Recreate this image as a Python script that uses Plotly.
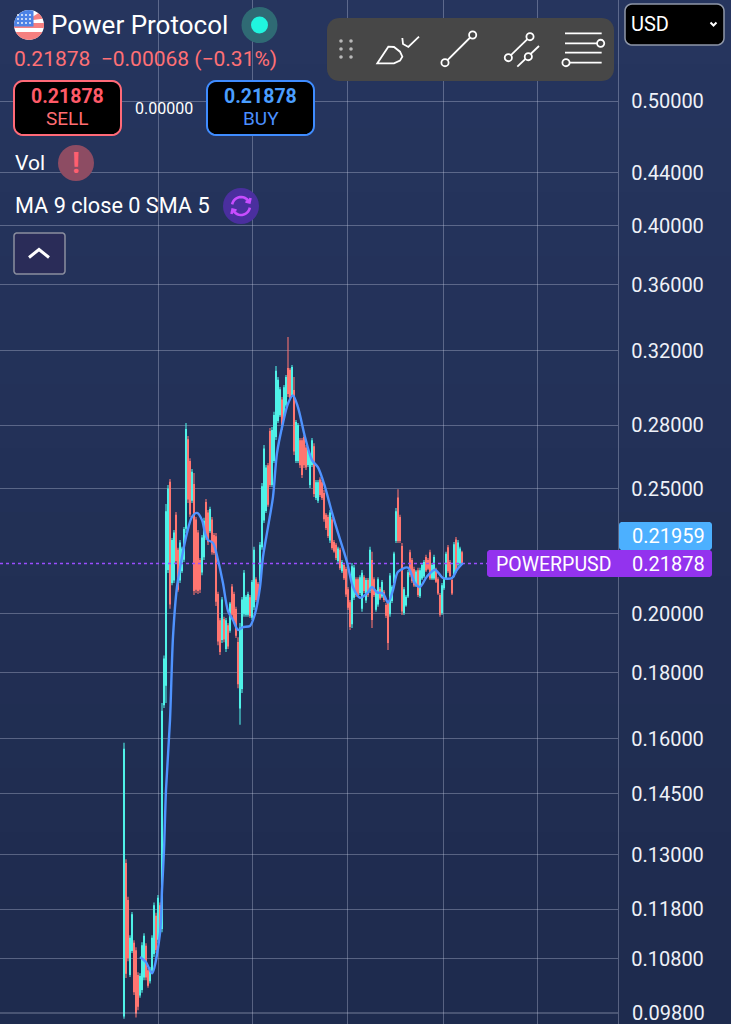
import math
import plotly.graph_objects as go

W, H = 731, 1024

# ---------- data ----------
opens = [
 .0975,.1280,.1198,.1050,.1096,.1110,.1095,.1048,.1012,.1022,
 .1045,.1104,.1057,.1038,.1058,.1090,.1165,.1118,.1187,.1140,
 .1700,.1760,.2165,.2530,.2115,.2125,.2385,.2240,.2125,.2160,
 .2205,.2330,.2730,.2625,.2450,.2520,.2365,.2310,.2200,.2155,
 .2215,.2440,.2395,.2320,.2365,.2300,.2295,.2070,.1975,.1910,
 .1980,.1880,.1958,.1942,.2098,.2070,.2015,.1900,.1690,.1750,
 .2000,.1998,.1998,.2058,.1988,.2025,.2125,.2108,.2125,.2255,
 .2365,.2405,.2605,.2770,.2520,.2630,.2745,.2825,.2855,.2930,
 .2840,.2905,.3100,.3090,.2960,.2980,.2630,.2630,.2725,.2725,
 .2740,.2690,.2612,.2520,.2612,.2695,.2462,.2450,.2540,.2528,
 .2480,.2385,.2375,.2282,.2365,.2272,.2260,.2200,.2240,.2160,
 .2180,.2165,.2088,.2040,.1965,.2060,.2125,.2125,.2078,.2020,
 .2133,.2050,.2122,.2086,.2200,.2125,.2016,.2035,.2090,.2065,
 .2078,.2030,.2040,.2000,.2048,.2115,.2280,.2460,.2375,.2255,
 .2005,.2032,.2065,.2230,.2200,.2165,.2106,.2160,.2066,.2132,
 .2140,.2212,.2200,.2230,.2132,.2132,.2162,.2125,.2066,.2005,
 .2095,.2132,.2250,.2192,.2122,.2143,.2282,.2185,.2190,.2230]
closes = [
 .1570,.1052,.1082,.1120,.1168,.1018,.0980,.0992,.1046,.1105,
 .1124,.1045,.1030,.1058,.1120,.1187,.1098,.1203,.1137,.1680,
 .1845,.2400,.2500,.2035,.2280,.2310,.2200,.2090,.2270,.2245,
 .2325,.2780,.2455,.2390,.2575,.2085,.2090,.2085,.2090,.2290,
 .2360,.2295,.2275,.2410,.2235,.2232,.2045,.1905,.1870,.2050,
 .1912,.1975,.1888,.2035,.1998,.1975,.1925,.1765,.1950,.2050,
 .2150,.2060,.2070,.1993,.2115,.2240,.2052,.2058,.2260,.2510,
 .2685,.2595,.2432,.2520,.2775,.2850,.3085,.3035,.2985,.2790,
 .2995,.3050,.2965,.2945,.3105,.2675,.2815,.2800,.2610,.2565,
 .2610,.2600,.2680,.2650,.2725,.2480,.2528,.2528,.2475,.2462,
 .2370,.2333,.2300,.2395,.2252,.2238,.2212,.2245,.2172,.2192,
 .2133,.2072,.2024,.1955,.2175,.2170,.2070,.2070,.2133,.2150,
 .2085,.2122,.2070,.2240,.1980,.2070,.2078,.2125,.2057,.2115,
 .2052,.1995,.1900,.2140,.2097,.2225,.2400,.2280,.2280,.2010,
 .2088,.2060,.2152,.2145,.2122,.2106,.2155,.2070,.2160,.2180,
 .2192,.2163,.2170,.2132,.2180,.2212,.2120,.2076,.1998,.2103,
 .2125,.2224,.2160,.2142,.2076,.2262,.2160,.2270,.2245,.21878]
highs = [
 .1588,.1290,.1206,.1126,.1174,.1116,.1102,.1054,.1052,.1112,
 .1130,.1110,.1062,.1064,.1126,.1194,.1172,.1210,.1194,.1705,
 .1856,.2434,.2517,.2545,.2290,.2323,.2399,.2250,.2282,.2254,
 .2335,.2813,.2748,.2641,.2590,.2572,.2378,.2323,.2210,.2302,
 .2374,.2455,.2408,.2421,.2378,.2311,.2311,.2080,.1985,.2061,
 .1989,.1985,.1967,.2043,.2109,.2080,.2025,.1918,.1967,.2061,
 .2163,.2068,.2080,.2068,.2124,.2254,.2135,.2117,.2274,.2526,
 .2704,.2609,.2618,.2788,.2793,.2869,.3114,.3053,.2999,.2946,
 .3010,.3064,.3280,.3103,.3120,.3053,.2828,.2813,.2738,.2738,
 .2753,.2704,.2694,.2665,.2738,.2713,.2540,.2540,.2553,.2540,
 .2495,.2395,.2387,.2408,.2378,.2282,.2270,.2254,.2250,.2202,
 .2190,.2175,.2098,.2050,.2190,.2182,.2135,.2135,.2143,.2163,
 .2143,.2132,.2132,.2254,.2234,.2135,.2087,.2135,.2098,.2124,
 .2087,.2039,.2050,.2151,.2105,.2234,.2416,.2499,.2387,.2270,
 .2098,.2068,.2163,.2242,.2210,.2175,.2163,.2171,.2171,.2190,
 .2202,.2222,.2210,.2242,.2190,.2222,.2171,.2135,.2076,.2113,
 .2135,.2234,.2262,.2202,.2132,.2274,.2294,.2282,.2254,.2238]
lows = [
 .0970,.1043,.1075,.1045,.1091,.1012,.0972,.0985,.1007,.1016,
 .1039,.1039,.1025,.1033,.1052,.1083,.1091,.1110,.1130,.1132,
 .1690,.1705,.2151,.2018,.2105,.2113,.2190,.2080,.2113,.2151,
 .2194,.2311,.2438,.2378,.2438,.2068,.2076,.2072,.2076,.2143,
 .2202,.2282,.2262,.2311,.2222,.2222,.2028,.1891,.1858,.1898,
 .1901,.1868,.1878,.1933,.1989,.1967,.1915,.1751,.1640,.1736,
 .1989,.1989,.1989,.1985,.1978,.2014,.2043,.2050,.2113,.2242,
 .2352,.2395,.2421,.2508,.2508,.2618,.2728,.2813,.2843,.2778,
 .2828,.2894,.2946,.2930,.2946,.2656,.2618,.2618,.2595,.2549,
 .2595,.2586,.2600,.2504,.2600,.2464,.2451,.2438,.2464,.2451,
 .2357,.2323,.2290,.2270,.2242,.2230,.2202,.2190,.2163,.2151,
 .2124,.2061,.2014,.1943,.1950,.2050,.2061,.2061,.2068,.2007,
 .2076,.2039,.2061,.2076,.1950,.2061,.2007,.2025,.2050,.2057,
 .2043,.1985,.1875,.1989,.2039,.2105,.2270,.2270,.2270,.1996,
 .1996,.2025,.2057,.2135,.2113,.2098,.2098,.2061,.2057,.2124,
 .2132,.2155,.2163,.2124,.2124,.2124,.2113,.2068,.1989,.1996,
 .2087,.2124,.2151,.2135,.2068,.2135,.2151,.2175,.2182,.21878]

ma_index = [8,11,14,18,19,20,21,23,24.5,26.5,29,31.5,34,36.5,39,40.5,42,44.5,47,49.5,52,54.5,57,59.5,63,
            65.5,68,69.5,72,74.5,76.5,79.5,82,84.5,87,90.5,94,97,100.5,104,107,111.5,114.5,118,121.5,124,
            126.5,129.5,132,134.5,137,142,145.5,148,151.5,155.5,159.5,164,166.5,169.5]
ma_values = [.1083,.1073,.1052,.1130,.1221,.1311,.1460,.1654,.1919,.2098,.2214,.2311,.2378,.2395,.2365,.2311,
             .2282,.2270,.2202,.2112,.2010,.1978,.1943,.1953,.1957,.2000,.2098,.2214,.2335,.2465,.2665,.2813,
             .2912,.2955,.2892,.2743,.2632,.2598,.2509,.2396,.2311,.2194,.2098,.2058,.2074,.2098,.2078,.2074,
             .2040,.2086,.2156,.2172,.2112,.2098,.2138,.2164,.2132,.2132,.2164,.2190]

price_ticks = [0.5,0.44,0.4,0.36,0.32,0.28,0.25,0.2,0.18,0.16,0.145,0.13,0.118,0.108]
price_labels = ["0.50000","0.44000","0.40000","0.36000","0.32000","0.28000","0.25000","0.20000",
                "0.18000","0.16000","0.14500","0.13000","0.11800","0.10800"]
bottom_tick = 0.098
bottom_label = "0.09800"
time_grid = [17, 64, 111.5, 159.5, 206.5]
last_price = 0.21878

n = len(opens)
assert n == len(closes) == len(highs) == len(lows) == 170
assert len(ma_index) == len(ma_values)

# ---------- helpers in page pixels ----------
px = lambda x: x / W
py = lambda y: 1 - y / H
shapes, annos = [], []
def path(points, close=True):
    return "M " + " L ".join(f"{px(x):.5f},{py(y):.5f}" for x, y in points) + (" Z" if close else "")
def add_poly(points, fill=None, line=None, w=0, close=True, layer="above"):
    shapes.append(dict(type="path", xref="paper", yref="paper", path=path(points, close), layer=layer,
                       fillcolor=fill if fill else "rgba(0,0,0,0)",
                       line=dict(color=line if line else "rgba(0,0,0,0)", width=w)))
def round_rect(x0, y0, x1, y1, r, fill, line=None, w=0):
    pts = []
    for cx, cy, a0 in [(x1-r, y0+r, -90), (x1-r, y1-r, 0), (x0+r, y1-r, 90), (x0+r, y0+r, 180)]:
        for k in range(7):
            a = math.radians(a0 + k * 15)
            pts.append((cx + r*math.cos(a), cy + r*math.sin(a)))
    add_poly(pts, fill, line, w)
def circle(cx, cy, r, fill, line=None, w=0):
    shapes.append(dict(type="circle", xref="paper", yref="paper", x0=px(cx-r), x1=px(cx+r), y0=py(cy+r), y1=py(cy-r),
                       fillcolor=fill, line=dict(color=line if line else "rgba(0,0,0,0)", width=w)))
def segline(pts, color, w):
    add_poly(pts, None, color, w, close=False)
def text(x, y, s, size, color="#ffffff", anchor="left", bold=False):
    annos.append(dict(xref="paper", yref="paper", x=px(x), y=py(y), text=f"<b>{s}</b>" if bold else s, showarrow=False,
                      xanchor=anchor, yanchor="middle", borderpad=0,
                      font=dict(family="Roboto", size=size, color=color)))
def arc(cx, cy, r, a0, a1, steps=14):
    return [(cx + r*math.cos(math.radians(a0+(a1-a0)*k/steps)), cy + r*math.sin(math.radians(a0+(a1-a0)*k/steps))) for k in range(steps+1)]

# background gradient strips
top, bot = (38, 53, 94), (30, 43, 78)
strips = 16
for s in range(strips):
    t = s / (strips-1)
    c = tuple(round(top[k] + (bot[k]-top[k]) * t) for k in range(3))
    shapes.append(dict(type="rect", xref="paper", yref="paper", x0=0, x1=1, y0=1-(s+1)/strips, y1=1-s/strips, layer="below",
                       fillcolor=f"rgb{c}", line=dict(width=0)))

# flag
fx, fy, fr = 29, 25, 15
circle(fx, fy, fr, "#ffffff")
def band(y0, y1):
    pts = []
    for y in [y0 + (y1-y0)*k/8 for k in range(9)]:
        pts.append((fx + math.sqrt(max(fr*fr-(y-fy)**2, 0)), y))
    for y in [y1 - (y1-y0)*k/8 for k in range(9)]:
        pts.append((fx - math.sqrt(max(fr*fr-(y-fy)**2, 0)), y))
    return pts
add_poly(band(23, 28), "#f58080")
add_poly(band(32, 40), "#f58080")
add_poly([(33, 16.5)] + arc(fx, fy, fr, -52, -25, 5) + [(33, 20)], "#f58080")
add_poly([(fx, fy+1.5), (fx+4.5, fy+1.5), (fx+4.5, 10.5)] + arc(fx, fy, fr, -73, -180, 12) + [(14, fy+1.5)], "#4d83e6")
for dx in (18, 22, 26, 30):
    for dy in (15, 19, 23):
        circle(dx, dy, 0.9, "#ffffff")

text(50, 25, "Power Protocol", 26)
circle(259.5, 25, 18, "#2f6a74")
circle(259.5, 25, 8.5, "#20f5df")
text(13, 59, "0.21878&#160;&#160;−0.00068 (−0.31%)", 21, "#ff7075")

# sell / buy
round_rect(14, 81, 121, 135, 9, "#000000", "#ff6a78", 2)
text(67.5, 96, "0.21878", 19.5, "#ff5a68", "center", True)
text(67.5, 118.5, "SELL", 19, "#ff6d72", "center")
text(164, 108, "0.00000", 16, "#ffffff", "center")
round_rect(207, 81, 314, 135, 9, "#000000", "#3f8cff", 2)
text(260.5, 96, "0.21878", 19.5, "#4a9eff", "center", True)
text(260.5, 118.5, "BUY", 19, "#4a8fff", "center")

# indicators
text(14, 163, "Vol", 21)
circle(76, 163, 18, "#8d4c63")
text(76, 163, "!", 29, "#ff5f70", "center", True)
text(14, 205, "MA 9 close 0 SMA 5", 21.7)
circle(241, 206, 18, "#4a2f9e")
segline(arc(241, 206, 9, 190, 335), "#c84dff", 2.6)
segline(arc(241, 206, 9, 10, 155), "#c84dff", 2.6)
segline([(245.5, 201.5), (249.5, 202.5), (250.5, 198)], "#c84dff", 2.6)
segline([(236.5, 210.5), (232.5, 209.5), (231.5, 214)], "#c84dff", 2.6)
round_rect(14, 233, 65, 274, 3, "#2a2c58", "#8b8f9f", 1.5)
segline([(29, 257.5), (39, 249.5), (49, 257.5)], "#ffffff", 3)

# toolbar
round_rect(327, 18, 614, 81, 12, "#474747")
for gx in (341, 351):
    for gy in (41, 49, 57):
        circle(gx, gy, 1.8, "#b9b9b9")
tool = lambda pts: [(x/3+320, y/3) for x, y in pts]
add_poly(tool([(172, 190), (205, 140), (222, 141), (240, 155), (247, 170), (240, 182), (222, 190)]), None, "#ffffff", 1.8)
segline(tool([(247, 114), (249, 132), (265, 141), (297, 110)]), "#ffffff", 1.8)
def node(x, y):
    circle(x/3+320, y/3, 3.6, "#474747", "#ffffff", 1.8)
segline(tool([(375, 188), (458, 105)]), "#ffffff", 1.8); node(375, 188); node(458, 105)
segline(tool([(565, 173), (630, 110)]), "#ffffff", 1.8); node(565, 173); node(630, 110)
segline(tool([(592, 200), (657, 138)]), "#ffffff", 1.8); node(625, 170)
segline(tool([(735, 100), (845, 100)]), "#ffffff", 1.8)
segline(tool([(735, 130), (832, 130)]), "#ffffff", 1.8); node(842, 130)
segline(tool([(735, 158), (845, 158)]), "#ffffff", 1.8)
segline(tool([(748, 188), (845, 188)]), "#ffffff", 1.8); node(738, 188)

# currency select
round_rect(625, 4, 724, 45, 7, "#000000", "#8f97a8", 1.5)
text(630, 24, "USD", 20)
segline([(710.5, 22.5), (713.5, 25.5), (716.5, 22.5)], "#ffffff", 2)

# price labels
round_rect(619, 522, 712, 550, 3, "#4cb0ff")
round_rect(487, 550, 712, 577, 3, "#9333ee")
text(631, 536, "0.21959", 20, "#ffffff")
text(494.5, 564, "POWERPUSD", 19.5, "#ffffff")
text(631, 564, "0.21878", 20, "#ffffff")

grid = "rgba(205,213,235,0.33)"

# ---------- figure ----------
fig = go.Figure()
fig.add_trace(go.Scatter(x=[-62, 247], y=[bottom_tick, bottom_tick], mode="lines", hoverinfo="skip",
                         line=dict(color=grid, width=1.3)))
fig.add_trace(go.Scatter(x=[-62, 181.5], y=[last_price, last_price], mode="lines", hoverinfo="skip",
                         line=dict(color="#9a4dff", width=1.5, dash="dot")))
fig.add_trace(go.Candlestick(x=list(range(n)), open=opens, high=highs, low=lows, close=closes, whiskerwidth=0,
                             increasing=dict(line=dict(color="#4ff2e8", width=1.05), fillcolor="#4ff2e8"),
                             decreasing=dict(line=dict(color="#ff7570", width=1.05), fillcolor="#ff7570")))
fig.add_trace(go.Scatter(x=ma_index, y=ma_values, mode="lines", hoverinfo="skip",
                         line=dict(color="#4f93ff", width=2.4, shape="spline", smoothing=0.8)))

annos.append(dict(xref="paper", yref="y", x=px(631), y=math.log10(bottom_tick), text=bottom_label, showarrow=False,
                  xanchor="left", yanchor="middle", borderpad=0, font=dict(family="Roboto", size=20, color="#eef1f8")))

fig.update_layout(
    width=W, height=H, margin=dict(l=0, r=0, t=0, b=0), showlegend=False,
    paper_bgcolor="#232f55", plot_bgcolor="rgba(0,0,0,0)",
    shapes=shapes, annotations=annos, font=dict(family="Roboto"),
    xaxis=dict(domain=[0, 618/W], range=[-62, 247], rangeslider=dict(visible=False), tickmode="array",
               tickvals=time_grid, showticklabels=False, ticks="", showgrid=True, gridcolor=grid, gridwidth=1.3, zeroline=False),
    yaxis=dict(type="log", side="right", anchor="x", range=[math.log10(0.09609), math.log10(0.5989)], tickmode="array",
               tickvals=price_ticks, ticktext=price_labels, showgrid=True, gridcolor=grid, gridwidth=1.3, zeroline=False,
               ticks="outside", ticklen=8, tickcolor="rgba(0,0,0,0)", tickfont=dict(family="Roboto", size=20, color="#eef1f8"),
               showline=True, linecolor=grid, linewidth=1.3, automargin=False),
)
fig.write_html("out.html", config=dict(displayModeBar=False, responsive=False),
               post_script="document.body.style.margin='0';document.body.style.background='#232f55';")
